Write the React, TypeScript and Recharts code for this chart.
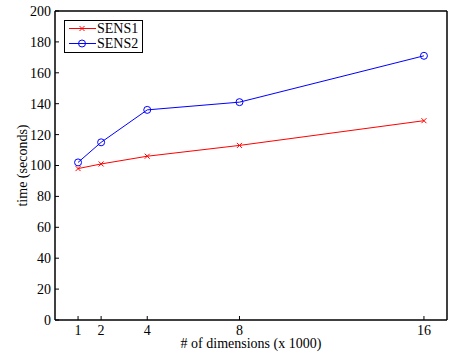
import { LineChart, Line, XAxis, YAxis } from "recharts";

const dims = [1, 2, 4, 8, 16];
const sens1 = [98, 101, 106, 113, 129];
const sens2 = [102, 115, 136, 141, 171];
const yTicks = [0, 20, 40, 60, 80, 100, 120, 140, 160, 180, 200];

const data = dims.map((d, i) => ({ dim: d, SENS1: sens1[i], SENS2: sens2[i] }));

const font = "'Liberation Serif', 'Times New Roman', serif";

// chart is meant to sit at the page's top-left corner
document.body.style.margin = "0";

const CrossDot = (props: any) => {
  const { cx, cy, stroke } = props;
  if (cx == null || cy == null) return null;
  const s = 2.5;
  return (
    <g>
      <line x1={cx - s} y1={cy - s} x2={cx + s} y2={cy + s} stroke={stroke} strokeWidth={1} />
      <line x1={cx - s} y1={cy + s} x2={cx + s} y2={cy - s} stroke={stroke} strokeWidth={1} />
    </g>
  );
};

const LegendBox = () => (
  <div
    style={{
      position: "absolute",
      left: 64,
      top: 20,
      width: 77,
      height: 31,
      border: "1px solid #000",
      background: "#fff",
      fontFamily: font,
      fontSize: 14,
      lineHeight: "15px",
    }}
  >
    {[
      { name: "SENS1", color: "#ff0000", cross: true },
      { name: "SENS2", color: "#0000ff", cross: false },
    ].map((e) => (
      <div key={e.name} style={{ display: "flex", alignItems: "center", height: 15 }}>
        <svg width={32} height={15}>
          <line x1={4} y1={7.5} x2={31} y2={7.5} stroke={e.color} strokeWidth={1} />
          {e.cross ? (
            <CrossDot cx={17} cy={7.5} stroke={e.color} />
          ) : (
            <circle cx={17} cy={7.5} r={3.5} fill="none" stroke={e.color} />
          )}
        </svg>
        <span>{e.name}</span>
      </div>
    ))}
  </div>
);

const XLabel = (props: any) => {
  const { x, y, width } = props.viewBox;
  return (
    <text x={x + width / 2} y={y + 28} textAnchor="middle" fontFamily={font} fontSize={14} fill="#000">
      # of dimensions (x 1000)
    </text>
  );
};

const YLabel = (props: any) => {
  const { y, height } = props.viewBox;
  const cx = 22;
  const cy = y + height / 2;
  return (
    <text
      x={cx}
      y={cy}
      transform={`rotate(-90, ${cx}, ${cy})`}
      textAnchor="middle"
      dominantBaseline="central"
      fontFamily={font}
      fontSize={14}
      fill="#000"
    >
      time (seconds)
    </text>
  );
};

const App = () => {
  const tickStyle = { fontFamily: font, fontSize: 14, fill: "#000" };
  return (
    <div style={{ position: "relative", width: 449, height: 354, background: "#fff" }}>
      <LineChart
        width={449}
        height={354}
        data={data}
        margin={{ top: 10, right: 1, bottom: 0, left: 0 }}
      >
        <XAxis
          xAxisId="b"
          dataKey="dim"
          type="number"
          domain={[0, 17]}
          ticks={dims}
          height={34}
          stroke="#000"
          tickSize={-4}
          tickMargin={9}
          tick={tickStyle}
          axisLine={{ stroke: "#000", strokeWidth: 1.5 }}
          label={<XLabel />}
        />
        <XAxis
          xAxisId="t"
          orientation="top"
          dataKey="dim"
          type="number"
          domain={[0, 17]}
          ticks={dims}
          height={1}
          stroke="#000"
          tickSize={-4}
          tick={false}
          axisLine={{ stroke: "#000", strokeWidth: 1.5 }}
        />
        <YAxis
          yAxisId="l"
          domain={[0, 200]}
          ticks={yTicks}
          width={55}
          stroke="#000"
          tickSize={-4}
          tickMargin={8}
          tick={tickStyle}
          axisLine={{ stroke: "#000", strokeWidth: 1.5 }}
          label={<YLabel />}
        />
        <YAxis
          yAxisId="r"
          orientation="right"
          domain={[0, 200]}
          ticks={yTicks}
          width={1}
          stroke="#000"
          tickSize={-4}
          tick={false}
          axisLine={{ stroke: "#000", strokeWidth: 1.5 }}
        />
        <Line
          xAxisId="b"
          yAxisId="l"
          type="linear"
          dataKey="SENS1"
          stroke="#ff0000"
          strokeWidth={1}
          dot={<CrossDot />}
          isAnimationActive={false}
        />
        <Line
          xAxisId="b"
          yAxisId="l"
          type="linear"
          dataKey="SENS2"
          stroke="#0000ff"
          strokeWidth={1}
          dot={{ r: 3.5, fill: "none", stroke: "#0000ff", strokeWidth: 1 }}
          isAnimationActive={false}
        />
      </LineChart>
      <LegendBox />
    </div>
  );
};

export default App;
